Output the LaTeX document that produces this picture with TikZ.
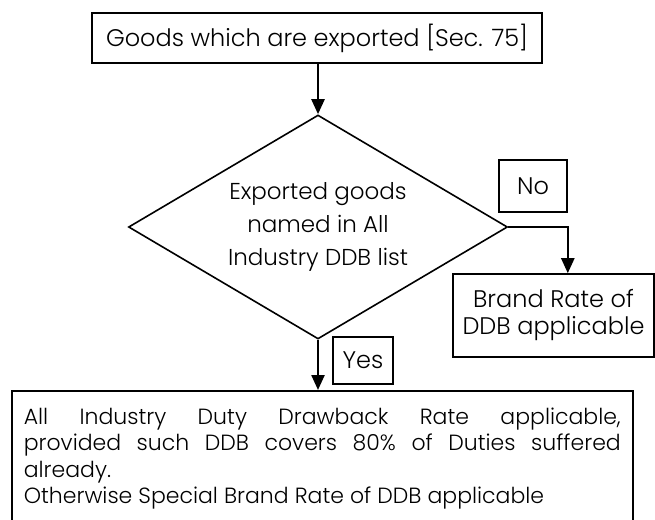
\documentclass[tikz,border=0pt]{standalone}
\usepackage{fontspec}
\IfFontExistsTF{Poppins Light}{\setmainfont{Poppins Light}}{\setmainfont{Poppins}}
\usetikzlibrary{arrows.meta, positioning, shapes.geometric}
\tikzset{
  box/.style    = {draw, line width=1.6pt, align=center, inner sep=0pt,
                   font=\fontsize{24}{27}\selectfont},
  decide/.style = {diamond, draw, line width=1.6pt, align=center, inner sep=0pt,
                   aspect=1.69, font=\fontsize{23}{33}\selectfont},
  tag/.style    = {draw, line width=1.6pt, inner sep=0pt,
                   font=\fontsize{24}{27}\selectfont},
  arrow/.style  = {-{Triangle[length=15pt, width=13pt]}, line width=2.4pt},
}
\begin{document}
\begin{tikzpicture}[x=1pt, y=-1pt]
  \useasboundingbox (0,0) rectangle (655,519);
  % boxes
  \node[box, minimum width=450pt, minimum height=50pt] (goods) at (317,38)
    {Goods which are exported [Sec. 75]};
  \node[decide, minimum width=379pt, minimum height=224pt] (named) at (318,227)
    {Exported goods\\named in All\\Industry DDB list};
  \node[tag, minimum width=68pt, minimum height=52pt] (no) at (533,186) {No};
  \node[box, minimum width=201pt, minimum height=83pt] (brand) at (553.5,315.5)
    {Brand Rate of\\DDB applicable};
  \node[tag, minimum width=60pt, minimum height=47pt] (yes) at (363,360.5) {Yes};
  \node[box, anchor=north west, text width=597pt, align=justify,
        font=\fontsize{22}{26}\selectfont,
        inner xsep=12pt, inner ysep=6pt, minimum height=136pt] (allind) at (11,390)
    {\baselineskip=26.5pt All Industry Duty Drawback Rate applicable,\linebreak
     provided such DDB covers 80\% of Duties suffered\linebreak
     already.\newline
     Otherwise Special Brand Rate of DDB applicable\par};
  % connectors
  \draw[arrow] (goods.south -| named.north) -- (named.north);
  \draw[arrow] (named.east) -| (no.east |- brand.north);
  \draw[arrow] (named.south) -- (named.south |- allind.north);
\end{tikzpicture}
\end{document}
